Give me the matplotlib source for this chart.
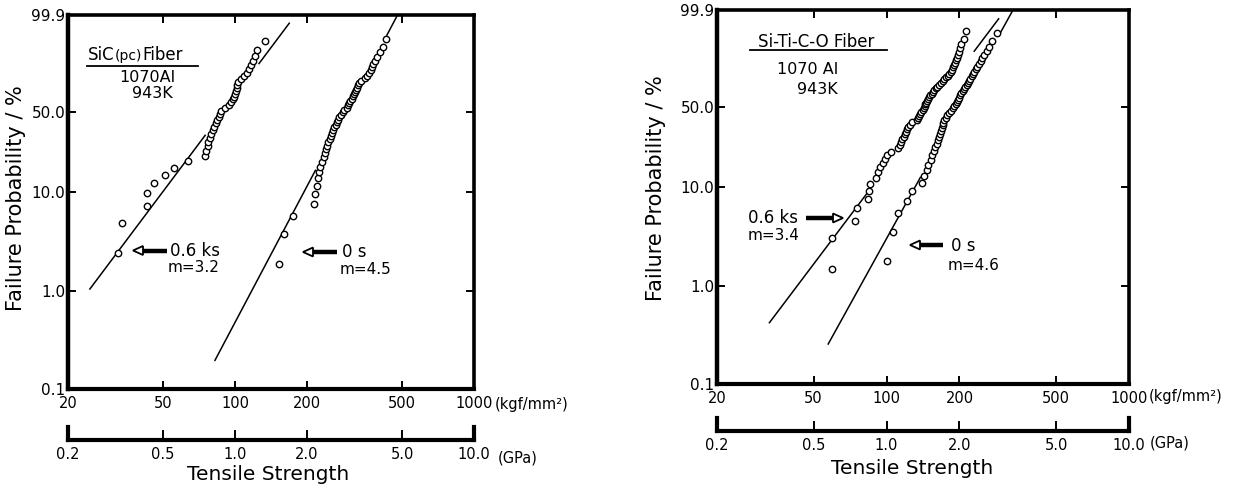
import numpy as np
import matplotlib
matplotlib.use("Agg")
import matplotlib.pyplot as plt
from matplotlib.ticker import NullLocator
from matplotlib.transforms import Affine2D
from matplotlib.lines import Line2D
from matplotlib.patches import Polygon

plt.rcParams['font.family'] = ['DejaVu Sans', 'Noto Sans CJK SC']

# ---------------- data ----------------
prob_ticks = [0.1, 1.0, 10.0, 50.0, 99.9]
prob_labels = ["0.1", "1.0", "10.0", "50.0", "99.9"]
kgf_ticks = [20, 50, 100, 200, 500, 1000]
kgf_labels = ["20", "50", "100", "200", "500", "1000"]
gpa_ticks = [0.2, 0.5, 1.0, 2.0, 5.0, 10.0]
gpa_labels = ["0.2", "0.5", "1.0", "2.0", "5.0", "10.0"]

# SiC(pc) fiber, 0.6 ks
sic_06ks_strength = [32.5, 33.6, 42.8, 43.0, 45.8, 50.8, 55.4, 63.7, 74.9, 75.9,
                     76.7, 77.3, 78.6, 79.7, 80.9, 82.0, 83.2, 84.3, 85.3, 86.4,
                     87.4, 90.8, 94.4, 96.2, 97.6, 98.8, 99.8, 100.7, 101.6, 102.4,
                     103.2, 105.9, 109.5, 112.2, 114.4, 116.1, 118.9, 121.5, 124.1, 133.5]
sic_06ks_prob = [2.44, 4.88, 7.32, 9.76, 12.20, 14.63, 17.07, 19.51, 21.95, 24.39,
                 26.83, 29.27, 31.71, 34.15, 36.59, 39.02, 41.46, 43.90, 46.34, 48.78,
                 51.22, 53.66, 56.10, 58.54, 60.98, 63.41, 65.85, 68.29, 70.73, 73.17,
                 75.61, 78.05, 80.49, 82.93, 85.37, 87.80, 90.24, 92.68, 95.12, 97.56]

# SiC(pc) fiber, 0 s
sic_0s_strength = [153.2, 160.7, 174.3, 214.6, 216.1, 221.0, 223.0, 224.5, 226.6, 232.2,
                   236.7, 239.0, 241.3, 243.2, 246.0, 248.9, 251.3, 253.7, 257.0, 260.3,
                   263.8, 267.1, 270.2, 273.6, 277.6, 282.2, 287.1, 293.2, 296.9, 300.3,
                   303.5, 307.6, 311.6, 314.6, 318.2, 322.2, 325.3, 328.5, 331.7, 336.5,
                   351.5, 357.6, 363.5, 369.8, 374.2, 377.8, 385.2, 392.6, 406.0, 415.9,
                   428.2]
sic_0s_prob = [1.9, 3.8, 5.8, 7.7, 9.6, 11.5, 13.5, 15.4, 17.3, 19.2,
               21.2, 23.1, 25.0, 26.9, 28.8, 30.8, 32.7, 34.6, 36.5, 38.5,
               40.4, 42.3, 44.2, 46.2, 48.1, 50.0, 51.9, 53.8, 55.8, 57.7,
               59.6, 61.5, 63.5, 65.4, 67.3, 69.2, 71.2, 73.1, 75.0, 76.9,
               78.8, 80.8, 82.7, 84.6, 86.5, 88.5, 90.4, 92.3, 94.2, 96.2,
               98.1]

# Si-Ti-C-O fiber, 0.6 ks
sito_06ks_strength = [59.4, 59.4, 74.2, 75.8, 84.1, 84.9, 85.5, 90.5, 92.2, 93.7,
                      96.3, 98.3, 100.5, 104.4, 111.6, 113.4, 114.8, 116.4, 117.9, 119.2,
                      120.6, 121.8, 123.0, 124.8, 128.0, 133.6, 134.6, 135.8, 137.7, 139.3,
                      140.9, 142.2, 143.6, 144.8, 145.8, 146.6, 148.0, 149.7, 151.4, 153.8,
                      155.8, 157.5, 159.4, 161.8, 164.3, 167.2, 170.4, 173.0, 176.3, 178.5,
                      181.1, 183.7, 185.6, 187.3, 189.1, 190.9, 192.9, 195.0, 196.6, 198.3,
                      201.0, 203.8, 207.8, 212.8]
sito_06ks_prob = [1.5, 3.1, 4.6, 6.2, 7.7, 9.2, 10.8, 12.3, 13.8, 15.4,
                  16.9, 18.5, 20.0, 21.5, 23.1, 24.6, 26.2, 27.7, 29.2, 30.8,
                  32.3, 33.8, 35.4, 36.9, 38.5, 40.0, 41.5, 43.1, 44.6, 46.2,
                  47.7, 49.2, 50.8, 52.3, 53.8, 55.4, 56.9, 58.5, 60.0, 61.5,
                  63.1, 64.6, 66.2, 67.7, 69.2, 70.8, 72.3, 73.8, 75.4, 76.9,
                  78.5, 80.0, 81.5, 83.1, 84.6, 86.2, 87.7, 89.2, 90.8, 92.3,
                  93.8, 95.4, 96.9, 98.5]

# Si-Ti-C-O fiber, 0 s
sito_0s_strength = [100.8, 106.1, 111.9, 121.1, 127.0, 139.7, 142.1, 146.5, 148.9, 151.9,
                    154.3, 156.3, 158.5, 160.8, 162.6, 164.2, 165.9, 167.5, 169.1, 170.4,
                    171.8, 173.4, 175.4, 177.8, 180.4, 184.5, 187.7, 190.2, 192.7, 195.3,
                    197.9, 200.0, 201.9, 203.4, 206.6, 209.0, 211.4, 214.0, 216.5, 219.2,
                    221.6, 224.6, 227.4, 230.4, 233.5, 236.8, 240.4, 244.4, 248.4, 253.2,
                    258.5, 265.0, 273.2, 285.6]
sito_0s_prob = [1.8, 3.6, 5.5, 7.3, 9.1, 10.9, 12.7, 14.5, 16.4, 18.2,
                20.0, 21.8, 23.6, 25.5, 27.3, 29.1, 30.9, 32.7, 34.5, 36.4,
                38.2, 40.0, 41.8, 43.6, 45.5, 47.3, 49.1, 50.9, 52.7, 54.5,
                56.4, 58.2, 60.0, 61.8, 63.6, 65.5, 67.3, 69.1, 70.9, 72.7,
                74.5, 76.4, 78.2, 80.0, 81.8, 83.6, 85.5, 87.3, 89.1, 90.9,
                92.7, 94.5, 96.4, 98.2]

# fitted Weibull lines (shape m, scale x0) and the visible strength ranges of each line piece
sic_06ks_fit = (3.27, 99.1)
sic_06ks_pieces = [(24.7, 75.0), (126.0, 168.6)]
sic_0s_fit = (4.64, 315.6)
sic_0s_pieces = [(82.4, 217.0), (432.0, 476.0)]
sito_06ks_fit = (3.3, 172.0)
sito_06ks_pieces = [(32.9, 83.0), (230.0, 290.0)]
sito_0s_fit = (4.5, 216.3)
sito_0s_pieces = [(57.5, 138.0), (290.0, 330.0)]


# ---------------- scales ----------------
def weib(p):
    p = np.clip(np.asarray(p, dtype=float), 1e-6, 100 - 1e-6)
    return np.log(-np.log(1.0 - p / 100.0))


def weib_inv(w):
    w = np.asarray(w, dtype=float)
    return 100.0 * (1.0 - np.exp(-np.exp(w)))


W, H = 1240, 492
fig = plt.figure(figsize=(W / 100, H / 100), dpi=100)
pix = Affine2D().scale(1.0 / W, -1.0 / H).translate(0, 1) + fig.transFigure


def rect(x0, y0, x1, y1):
    return [x0 / W, 1 - y1 / H, (x1 - x0) / W, (y1 - y0) / H]


def line_prob(x, fit):
    m, x0 = fit
    return weib_inv(m * (np.log(np.asarray(x)) - np.log(x0)))


def arrow(tail_x, head_x, y):
    d = 1 if head_x > tail_x else -1
    base = head_x - d * 10
    fig.add_artist(Line2D([tail_x, base], [y, y], lw=3.2, color='black',
                          solid_capstyle='butt', transform=pix))
    fig.add_artist(Polygon([(head_x, y), (base, y - 4.5), (base, y + 4.5)], closed=True,
                           facecolor='white', edgecolor='black', lw=1.3, transform=pix))


def txt(x, y, s, size=11, ha='left', va='center', **kw):
    fig.text(x, y, s, fontsize=size, ha=ha, va=va, transform=pix, **kw)


def panel(box, gbox, series, ylabel_x, ylabel_y, xlabel_xy, kgf_unit_xy, gpa_unit_xy):
    ax = fig.add_axes(rect(*box))
    ax.set_xscale('log')
    ax.set_yscale('function', functions=(weib, weib_inv))
    ax.set_xlim(20, 1000)
    ax.set_ylim(0.1, 99.9)
    ax.set_xticks(kgf_ticks, kgf_labels)
    ax.set_yticks(prob_ticks, prob_labels)
    ax.xaxis.set_minor_locator(NullLocator())
    ax.yaxis.set_minor_locator(NullLocator())
    for s in ax.spines.values():
        s.set_linewidth(2.6)
    ax.spines['left'].set_linewidth(3.2)
    ax.spines['bottom'].set_linewidth(3.0)
    ax.tick_params(axis='both', which='major', direction='in', top=True, right=True,
                   length=6, width=1.4, labelsize=11)
    ax.tick_params(axis='x', pad=5, labelsize=10.5)
    ax.tick_params(axis='y', pad=2)
    for strength, prob, fit, pieces in series:
        for a, b in pieces:
            xs = np.array([a, b])
            ax.plot(xs, line_prob(xs, fit), color='black', lw=1.1, zorder=2)
        ax.plot(strength, prob, linestyle='none', marker='o', markersize=4.6,
                markerfacecolor='white', markeredgecolor='black', markeredgewidth=1.0,
                zorder=3, clip_on=False)

    gx = fig.add_axes(rect(*gbox))
    gx.set_xscale('log')
    gx.set_xlim(0.2, 10)
    gx.set_ylim(0, 1)
    gx.patch.set_alpha(0)
    gx.spines['top'].set_visible(False)
    for k in ('left', 'right', 'bottom'):
        gx.spines[k].set_linewidth(3.0)
    gx.set_yticks([])
    gx.set_xticks(gpa_ticks, gpa_labels)
    gx.xaxis.set_minor_locator(NullLocator())
    gx.tick_params(axis='x', direction='in', length=7, width=1.4, labelsize=10.5, pad=5)

    txt(ylabel_x, ylabel_y, "Failure Probability / %", size=15, ha='center', rotation=90)
    txt(xlabel_xy[0], xlabel_xy[1], "Tensile Strength", size=14.5, ha='center')
    txt(kgf_unit_xy[0], kgf_unit_xy[1], "(kgf/mm²)", size=10.5)
    txt(gpa_unit_xy[0], gpa_unit_xy[1], "(GPa)", size=10.5)
    return ax


# left panel: SiC(pc)
panel((68, 15, 474, 389), (68, 427, 474, 440),
      [(sic_06ks_strength, sic_06ks_prob, sic_06ks_fit, sic_06ks_pieces),
       (sic_0s_strength, sic_0s_prob, sic_0s_fit, sic_0s_pieces)],
      16, 198, (268, 475), (495, 405), (498, 458))
txt(88, 55, "SiC", size=12)
txt(115, 56, "(pc)", size=10)
txt(142, 55, "Fiber", size=12)
fig.add_artist(Line2D([87, 198], [66, 66], lw=1.3, color='black', transform=pix))
txt(147, 78, "1070Al", size=11.5, ha='center')
txt(152, 94, "943K", size=11.5, ha='center')
arrow(167, 133, 250.5)
txt(170, 250.5, "0.6 ks", size=12)
txt(168, 268, "m=3.2", size=11)
arrow(337, 303, 252)
txt(342, 252, "0 s", size=12)
txt(340, 270, "m=4.5", size=11)

# right panel: Si-Ti-C-O
panel((717, 10, 1129, 384), (717, 418, 1129, 431),
      [(sito_06ks_strength, sito_06ks_prob, sito_06ks_fit, sito_06ks_pieces),
       (sito_0s_strength, sito_0s_prob, sito_0s_fit, sito_0s_pieces)],
      656, 188, (912, 468), (1149, 397), (1150, 443))
txt(816, 42, "Si-Ti-C-O Fiber", size=12, ha='center')
fig.add_artist(Line2D([750, 887], [50, 50], lw=1.3, color='black', transform=pix))
txt(808, 70, "1070 Al", size=11.5, ha='center')
txt(817, 89, "943K", size=11.5, ha='center')
txt(748, 218, "0.6 ks", size=12)
arrow(806, 843, 218)
txt(748, 236, "m=3.4", size=11)
arrow(943, 910, 245)
txt(951, 246, "0 s", size=12)
txt(948, 265, "m=4.6", size=11)

fig.savefig("out.png", dpi=100)
